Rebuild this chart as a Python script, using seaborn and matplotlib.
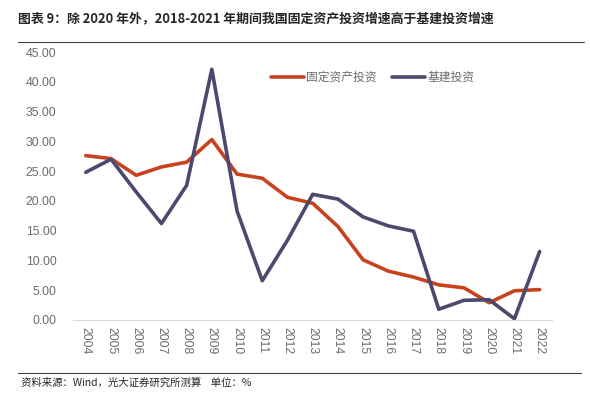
import pandas as pd
import matplotlib
matplotlib.use("Agg")
import matplotlib.pyplot as plt
import seaborn as sns

years = [str(y) for y in range(2004, 2023)]
fixed_asset = [27.6, 27.1, 24.3, 25.7, 26.5, 30.3, 24.5, 23.8, 20.6, 19.6,
               15.7, 10.1, 8.2, 7.2, 5.9, 5.4, 2.9, 4.9, 5.1]
infra = [24.8, 27.0, 21.5, 16.2, 22.6, 42.1, 18.3, 6.6, 13.4, 21.1,
         20.3, 17.3, 15.8, 14.9, 1.8, 3.3, 3.4, 0.2, 11.5]
series_names = ["固定资产投资", "基建投资"]
colors = ["#C8421E", "#4B4A6E"]

df = pd.DataFrame({
    "year": years * 2,
    "value": fixed_asset + infra,
    "series": [series_names[0]] * len(years) + [series_names[1]] * len(years),
})

sns.set_style("white")
plt.rcParams["font.family"] = ["Noto Sans CJK SC", "DejaVu Sans"]

fig = plt.figure(figsize=(5.9, 3.97), dpi=100)
ax = fig.add_axes([0.124, 0.194, 0.812, 0.675])

sns.lineplot(data=df, x="year", y="value", hue="series", palette=colors,
             linewidth=2.6, ax=ax, sort=False)

ax.set_xlim(-0.5, len(years) - 0.5)
ax.set_ylim(0, 45)
ax.set_yticks(range(0, 50, 5))
ax.set_yticklabels([f"{v:.2f}" for v in range(0, 50, 5)], family="Liberation Sans")
ax.set_xticks(range(len(years)))
ax.set_xticklabels(years, rotation=270, family="Liberation Sans")
ax.set_xticks([i - 0.5 for i in range(len(years) + 1)], minor=True)
ax.tick_params(axis="x", which="major", length=0, pad=5, labelsize=8.8, colors="#6b6b6b")
ax.tick_params(axis="x", which="minor", length=3, direction="in", color="#d9d9d9")
ax.tick_params(axis="y", length=0, labelsize=8.8, colors="#6b6b6b", pad=12)
ax.set_xlabel("")
ax.set_ylabel("")
for s in ["top", "right", "left"]:
    ax.spines[s].set_visible(False)
ax.spines["bottom"].set_color("#d9d9d9")

leg = ax.legend(loc="upper left", bbox_to_anchor=(0.39, 0.97), ncol=2, frameon=False,
                fontsize=8.5, handlelength=2.8, columnspacing=1.3, handletextpad=0.2)
for t in leg.get_texts():
    t.set_color("#6b6b6b")

fig.text(0.03, 0.955, "图表 9：除 2020 年外，2018-2021 年期间我国固定资产投资增速高于基建投资增速",
         fontsize=9.3, fontweight="bold", va="center", ha="left")
fig.add_artist(plt.Line2D([0.03, 0.99], [0.895, 0.895], color="#404040", linewidth=0.8))
fig.add_artist(plt.Line2D([0.03, 0.985], [0.06, 0.06], color="#404040", linewidth=0.8))
fig.text(0.035, 0.035, "资料来源：Wind，光大证券研究所测算    单位：%",
         fontsize=7.5, va="center", ha="left")

fig.savefig("out.png", dpi=100)
